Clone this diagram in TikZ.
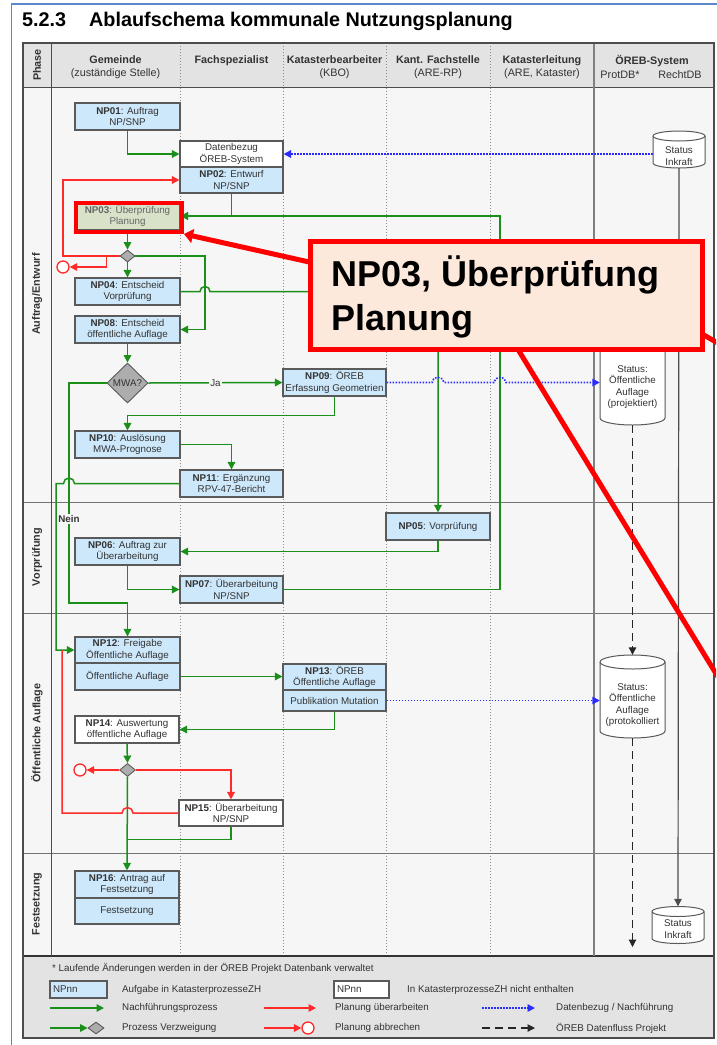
\documentclass[tikz,border=0pt]{standalone}
\usepackage{fontspec}
\setmainfont{Liberation Sans}
\usetikzlibrary{arrows.meta,shapes.geometric,calc}
\definecolor{npblue}{HTML}{CDE8FB}
\definecolor{npgreen}{HTML}{D7E2C8}
\definecolor{boxline}{HTML}{5A5A5A}
\definecolor{txt}{HTML}{333333}
\definecolor{gline}{HTML}{1A8F1A}
\definecolor{rline}{HTML}{FF2A2A}
\definecolor{bline}{HTML}{2B2BFF}
\definecolor{hdr}{HTML}{E3E3E3}
\definecolor{bodybg}{HTML}{F6F6F6}
\definecolor{frameblue}{HTML}{5B88C8}
\definecolor{callfill}{HTML}{FDE9DB}
\definecolor{callred}{HTML}{FF0000}
\newcommand\fs{\fontsize{9.8}{11.6}\selectfont}
\newcommand\hs{\fontsize{10.8}{13}\selectfont}
\newcommand\cylshape[5]{%
  \draw[cyl] ({#1-#3/2},{#2-#4/2+#5}) -- ({#1-#3/2},{#2+#4/2-#5})
     arc[start angle=180,end angle=0,x radius=#3/2,y radius=#5]
     -- ({#1+#3/2},{#2-#4/2+#5})
     arc[start angle=0,end angle=-180,x radius=#3/2,y radius=#5] -- cycle;
  \draw[cyl, fill=none] ({#1-#3/2},{#2-#4/2+#5}) arc[start angle=180,end angle=0,x radius=#3/2,y radius=#5];
}
\begin{document}
\begin{tikzpicture}[x=1pt,y=-1pt,
 npbox/.style={draw=boxline, line width=1.1pt, fill=npblue, inner sep=0pt, align=center, font=\fs, text=txt},
 wbox/.style={npbox, fill=white},
 tip/.style={-{Triangle[length=7.5pt,width=7.5pt]}},
 gar/.style={draw=gline, line width=1.5pt, tip},
 gln/.style={draw=gline, line width=1.5pt},
 rar/.style={draw=rline, line width=1.5pt, tip},
 rln/.style={draw=rline, line width=1.5pt},
 bar/.style={draw=bline, line width=1.6pt, dash pattern=on 1.5pt off 1.5pt, tip},
 dar/.style={draw=black!85, line width=1.1pt, dash pattern=on 8pt off 5pt, tip},
 sar/.style={draw=black!70, line width=1.2pt, tip},
 dia/.style={diamond, draw=boxline, fill=black!32, inner sep=0pt, line width=0.9pt},
 endc/.style={circle, draw=rline, line width=1.3pt, fill=white, minimum size=12pt, inner sep=0pt},
 hd/.style={font=\hs, text=txt, align=center, inner sep=0pt},
 ph/.style={font=\hs\bfseries, text=txt, rotate=90, inner sep=0pt},
 lane/.style={draw=black!45, line width=0.8pt, dash pattern=on 1pt off 2pt},
 cyl/.style={draw=boxline, line width=1pt, fill=white},
 cyltxt/.style={font=\fs, text=txt, align=center, inner sep=0pt},
 lg/.style={font=\fs, text=txt, anchor=west, inner sep=0pt},
 b105/.style={minimum width=105pt},
 b103/.style={minimum width=103pt},
 b104/.style={minimum width=104pt},
]
\useasboundingbox (0,0) rectangle (716,1045);
\fill[white] (0,0) rectangle (716,1045);
% frame and title
\draw[frameblue, line width=1.8pt] (11.5,1046) -- (11.5,4) -- (717,4);
\node[anchor=base west, font=\fontsize{19.8}{22}\selectfont\bfseries, inner sep=0] (ttlnum) at (22,26.5) {5.2.3};
\node[anchor=base west, font=\fontsize{19.8}{22}\selectfont\bfseries, inner sep=0] (ttl) at (89,26.5) {Ablaufschema kommunale Nutzungsplanung};
% table
\fill[hdr] (23,43) rectangle (714,87);
\fill[bodybg] (23,87) rectangle (714,956);
\fill[hdr] (23,956) rectangle (714,1038);
\foreach \xx in {180,283,386,490} \draw[lane] (\xx,43) -- (\xx,956);
\draw[black!70, line width=1pt] (23,87) -- (714,87);
\foreach \yy in {502,613,853} \draw[black!55, line width=1pt] (23,\yy) -- (714,\yy);
\draw[black!80, line width=1.2pt] (23,956) -- (714,956);
\draw[black!70, line width=1pt] (51,43) -- (51,956);
\draw[black!50, line width=1.6pt] (594,43) -- (594,956);
\draw[black!70, line width=1.2pt] (23,43) rectangle (714,1038);
% header
\node[ph] (hphase) at (37,65) {Phase};
\node[hd] (hgem) at (115.5,67.5) {\textbf{Gemeinde}\\(zuständige Stelle)};
\node[hd] (hfach) at (231.5,61) {\textbf{Fachspezialist}};
\node[hd] (hkbo) at (334.5,67.5) {\textbf{Katasterbearbeiter}\\(KBO)};
\node[hd] (hkant) at (438,67.5) {\textbf{Kant. Fachstelle}\\(ARE-RP)};
\node[hd] (hkl) at (542,67.5) {\textbf{Katasterleitung}\\(ARE, Kataster)};
\node[hd] (horeb) at (652,61) {\textbf{ÖREB-System}};
\node[hd] (hprot) at (620,74.5) {ProtDB*};
\node[hd] (hrecht) at (680,74.5) {RechtDB};
% phases
\node[ph] (p1) at (37,294) {Auftrag/Entwurf};
\node[ph] (p2) at (37,557) {Vorprüfung};
\node[ph] (p3) at (37,733) {Öffentliche Auflage};
\node[ph] (p4) at (37,904) {Festsetzung};
% boxes
\node[npbox, b105, minimum height=27pt] (np01) at (127.5,116.5) {\textbf{NP01}: Auftrag\\NP/SNP};
\node[wbox, b103, minimum height=26pt] (daten) at (231.5,154) {Datenbezug\\ÖREB-System};
\node[npbox, b103, minimum height=26pt] (np02) at (231.5,180) {\textbf{NP02}: Entwurf\\NP/SNP};
\node[npbox, b105, fill=npgreen, text=black!60, minimum height=28pt] (np03) at (127.5,216) {\textbf{NP03}: Überprüfung\\Planung};
\node[dia, minimum width=15pt, minimum height=12pt] (d1) at (127.5,256) {};
\node[endc] (c1) at (63,267) {};
\node[npbox, b105, minimum height=27pt] (np04) at (127.5,291.5) {\textbf{NP04}: Entscheid\\Vorprüfung};
\node[npbox, b105, minimum height=27pt] (np08) at (127.5,329.5) {\textbf{NP08}: Entscheid\\öffentliche Auflage};
\node[dia, minimum width=41pt, minimum height=40pt, font=\fs, text=txt] (mwa) at (127.5,383) {MWA?};
\node[npbox, b103, minimum height=27pt] (np09) at (334.5,382.5) {\textbf{NP09}: ÖREB\\Erfassung Geometrien};
\node[npbox, b105, minimum height=27pt] (np10) at (127.5,444.5) {\textbf{NP10}: Auslösung\\MWA-Prognose};
\node[npbox, b103, minimum height=27pt] (np11) at (231.5,483.5) {\textbf{NP11}: Ergänzung\\RPV-47-Bericht};
\node[npbox, b104, minimum height=27pt] (np05) at (438,526.5) {\textbf{NP05}: Vorprüfung};
\node[npbox, b105, minimum height=27pt] (np06) at (127.5,551.5) {\textbf{NP06}: Auftrag zur\\Überarbeitung};
\node[npbox, b103, minimum height=27pt] (np07) at (231.5,589.5) {\textbf{NP07}: Überarbeitung\\NP/SNP};
\node[npbox, b105, minimum height=26pt] (np12) at (127.5,650) {\textbf{NP12}: Freigabe\\Öffentliche Auflage};
\node[npbox, b105, minimum height=27pt] (np12b) at (127.5,676.5) {Öffentliche Auflage};
\node[npbox, b103, minimum height=26pt] (np13) at (334.5,677) {\textbf{NP13}: ÖREB\\Öffentliche Auflage};
\node[npbox, b103, minimum height=21pt] (np13b) at (334.5,700.5) {Publikation Mutation};
\node[wbox, b104, minimum height=27pt] (np14) at (127,729.5) {\textbf{NP14}: Auswertung\\öffentliche Auflage};
\node[dia, minimum width=16pt, minimum height=13pt] (d2) at (127.5,770) {};
\node[endc] (c2) at (80,770) {};
\node[wbox, b104, minimum height=26pt] (np15) at (231,813) {\textbf{NP15}: Überarbeitung\\NP/SNP};
\node[npbox, b104, minimum height=27pt] (np16) at (127,884.5) {\textbf{NP16}: Antrag auf\\Festsetzung};
\node[npbox, b104, minimum height=26pt] (np16b) at (127,911) {Festsetzung};
% cylinders
\cylshape{679}{149.5}{52}{37}{5}
\node[minimum width=52pt, minimum height=37pt, inner sep=0] (ink1) at (679,149.5) {};
\node[cyltxt] (ink1t) at (679,156) {Status\\Inkraft};
\cylshape{678}{925}{52}{37}{5}
\node[minimum width=52pt, minimum height=37pt, inner sep=0] (ink2) at (678,925) {};
\node[cyltxt] (ink2t) at (678,929) {Status\\Inkraft};
\cylshape{632.5}{381}{65}{88}{7}
\node[minimum width=65pt, minimum height=88pt, inner sep=0] (proj) at (632.5,381) {};
\node[cyltxt] (projt) at (632.5,387) {Status:\\Öffentliche\\Auflage\\(projektiert)};
\cylshape{632.5}{696.5}{65}{83}{7}
\node[minimum width=65pt, minimum height=83pt, inner sep=0] (prot) at (632.5,696.5) {};
\node[cyltxt] (prott) at (632.5,705) {Status:\\Öffentliche\\Auflage\\(protokolliert};
\coordinate (dashend) at (632.5,947);
% green connectors
\draw[gar] (np01.south) |- (daten.west);
\draw[gar] (np02.south) |- (np03.east);
\coordinate (xr) at (500,216);
\draw[gar] (np07.east) -| (xr) -- (np03.east);
\draw[gar] (np03.south) -- (d1.north);
\draw[gar] (d1.south) -- (np04.north);
\coordinate (d1r) at (205,256);
\draw[gar] (d1.east) -- (d1r) |- (np08.east);
\draw[gar] (np04.east) -- (200,291.5) arc[start angle=180,end angle=360,x radius=5,y radius=5] -- (np05.north |- np04.east) -- (np05.north);
\draw[gar] (np08.south) -- (mwa.north);
\draw[gar] (mwa.east) -- (np09.west) node[pos=0.5, fill=bodybg, inner sep=1pt, font=\fs, text=txt] (ja) {Ja};
\coordinate (neinx) at (69,603);
\draw[gar] (mwa.west) -| (neinx) -| (np12.north);
\node[fill=bodybg, inner sep=1pt, font=\fs\bfseries, text=txt] (nein) at (69,519) {Nein};
\draw[gar] (np09.south) -- ++(0,19) -| (np10.north);
\draw[gar] (np10.east) -| (np11.north);
\draw[gar] (np11.west) -- (74.5,483.5) arc[start angle=0,end angle=-180,x radius=5.5,y radius=5.5] -- (56,483.5) |- (np12.west);
\draw[gar] (np05.south) |- (np06.east);
\draw[gar] (np06.south) |- (np07.west);
\draw[gar] (np12b.east) -- (np12b.east -| np13.west);
\draw[gar] (np13b.south) |- (np14.east);
\draw[gar] (np14.south) -- (d2.north);
\draw[gar] (d2.south) -- (np16.north);
\draw[gln] (np15.south) |- ($(np16.north)+(0,-31)$);
% red connectors
\coordinate (redx1) at (63,256);
\draw[rar] (d1.west) -- (redx1) |- (np02.west);
\draw[rar] ($(d1.west)+(-13,0)$) |- (c1.east);
\draw[rar] (d2.west) -- (c2.east);
\draw[rar] (d2.east) -| (np15.north);
\draw[rln] (np15.west) -- (133,813) arc[start angle=0,end angle=-180,x radius=5.5,y radius=5.5] -- (62,813) -- (62,650);
% blue dotted
\draw[bar] (ink1.west |- daten.east) -- (daten.east);
\draw[bar] (np09.east) -- (432,382.5) arc[start angle=180,end angle=360,x radius=6,y radius=5] -- (494,382.5) arc[start angle=180,end angle=360,x radius=6,y radius=5] -- (proj.west |- np09.east);
\draw[bar] (np13b.east) -- (prot.west |- np13b.east);
% black flows
\draw[dar] (proj.south) -- (prot.north);
\draw[dar] (prot.south) -- (dashend);
\draw[sar] (ink1.south) -- (ink2.north);
% legend
\node[lg] (lnote) at (52,968.5) {* Laufende Änderungen werden in der ÖREB Projekt Datenbank verwaltet};
\node[npbox, minimum height=17pt, text width=51pt, align=left, inner xsep=3pt] (lb1) at (78.5,989.5) {NPnn};
\node[lg] (lt1) at (122,989.5) {Aufgabe in KatasterprozesseZH};
\node[wbox, minimum height=17pt, text width=49pt, align=left, inner xsep=3pt] (lb2) at (361.5,989.5) {NPnn};
\node[lg] (lt2) at (407,989.5) {In KatasterprozesseZH nicht enthalten};
\coordinate (lga) at (50,1008); \coordinate (lgb) at (104,1008);
\draw[gar] (lga) -- (lgb);
\node[lg] (lt3) at (122,1008) {Nachführungsprozess};
\coordinate (lra) at (264,1008); \coordinate (lrb) at (316,1008);
\draw[rar] (lra) -- (lrb);
\node[lg] (lt4) at (335,1008) {Planung überarbeiten};
\coordinate (lba) at (482,1008); \coordinate (lbb) at (535,1008);
\draw[bar] (lba) -- (lbb);
\node[lg] (lt5) at (556,1008) {Datenbezug / Nachführung};
\node[dia, minimum width=16pt, minimum height=12pt] (ldia) at (96,1028) {};
\coordinate (lga2) at (50,1028);
\draw[gar] (lga2) -- (ldia.west);
\node[lg] (lt6) at (122,1028) {Prozess Verzweigung};
\node[endc] (lcirc) at (308,1028) {};
\coordinate (lra2) at (264,1028);
\draw[rar] (lra2) -- (lcirc.west);
\node[lg] (lt7) at (335,1028) {Planung abbrechen};
\coordinate (lda) at (482,1028); \coordinate (ldb) at (535,1028);
\draw[dar] (lda) -- (ldb);
\node[lg] (lt8) at (556,1028) {ÖREB Datenfluss Projekt};
% callout overlay
\node[draw=callred, line width=4pt, minimum width=106pt, minimum height=29.5pt, inner sep=0] (np03hl) at (129,217.25) {};
\coordinate (offR) at (722,345.5);
\coordinate (offD) at (726,690);
\node[minimum width=392pt, minimum height=108pt, inner sep=0] (callpos) at (506.5,295.5) {};
\begin{scope}
\clip (0,0) rectangle (716,1045);
\draw[callred, line width=5pt, -{Triangle[length=9pt,width=14pt]}] ($(callpos.west)+(10,-31)$) -- (np03hl.south east);
\draw[callred, line width=5pt] ($(callpos.east)+(-10,33)$) -- (offR);
\draw[callred, line width=5pt] ($(callpos.south)+(2.5,-15)$) -- (offD);
\end{scope}
\node[draw=callred, line width=5pt, fill=callfill, minimum width=392pt, minimum height=108pt, inner sep=0] (callout) at (506.5,295.5) {};
\node[anchor=base west, inner sep=0, font=\fontsize{36}{40}\selectfont\bfseries] (ct1) at (331,286) {NP03, Überprüfung};
\node[anchor=base west, inner sep=0, font=\fontsize{36}{40}\selectfont\bfseries] (ct2) at (331,330) {Planung};
\end{tikzpicture}
\end{document}
